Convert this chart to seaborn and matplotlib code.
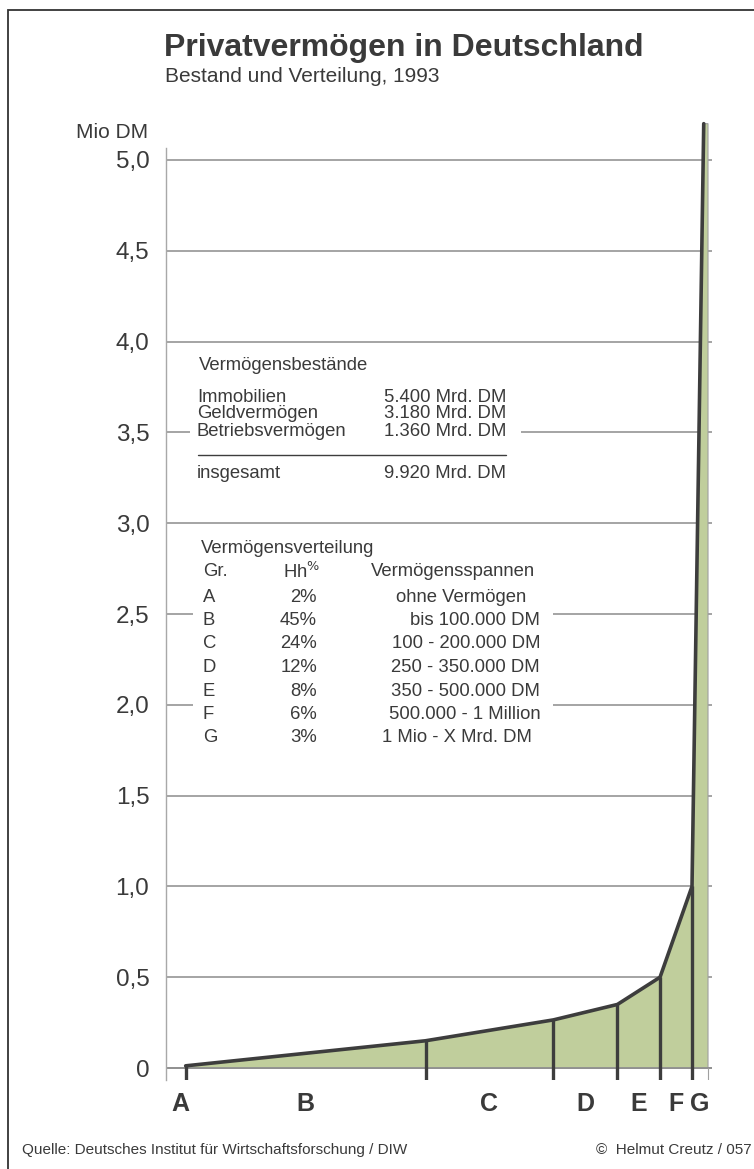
import numpy as np
import matplotlib
matplotlib.use("Agg")
import matplotlib.pyplot as plt
from matplotlib.patches import Rectangle
import seaborn as sns

# Gruppen und Haushaltsanteile (Hh%)
groups = ['A', 'B', 'C', 'D', 'E', 'F', 'G']
hh_pct = [2, 45, 24, 12, 8, 6, 3]
# Vermögen (Mio DM) an der oberen Grenze jeder Gruppe
upper_values = [0.012, 0.15, 0.265, 0.35, 0.5, 1.0, 5.2]
peak_x = 99.2  # wo die Kurve oben ankommt (kumulierte %)

y_ticks = [0, 0.5, 1.0, 1.5, 2.0, 2.5, 3.0, 3.5, 4.0, 4.5, 5.0]
y_ticklabels = ['0', '0,5', '1,0', '1,5', '2,0', '2,5', '3,0', '3,5', '4,0', '4,5', '5,0']

bestand_names = ['Immobilien', 'Geldvermögen', 'Betriebsvermögen']
bestand_values = ['5.400 Mrd. DM', '3.180 Mrd. DM', '1.360 Mrd. DM']
bestand_total = '9.920 Mrd. DM'

spannen = ['ohne Vermögen', 'bis 100.000 DM', '100 - 200.000 DM', '250 - 350.000 DM',
           '350 - 500.000 DM', '500.000 - 1 Million', '1 Mio - X Mrd. DM']

TXT = '#3a3a3a'
GREEN = '#c0ce9c'
DARK = '#3d3d3d'
GRID = '#8c8c8c'

sns.set_style("white")
plt.rcParams['font.family'] = ['Liberation Sans', 'DejaVu Sans']

W, H = 754, 1169
fig = plt.figure(figsize=(W / 100, H / 100), dpi=100)


def fx(x):
    return x / W


def fy(y):
    return 1 - y / H


# Achse in Pixeln: links 166, rechts 712, oben 148, unten 1080
ax = fig.add_axes([fx(166), fy(1080), fx(712 - 166), (1080 - 148) / H])

cum = np.cumsum(hh_pct)
curve_x = list(cum[:-1]) + [peak_x, cum[-1]]
curve_y = upper_values[:-1] + [upper_values[-1], upper_values[-1]]

ax.set_xlim(-1.69, 100.75)
ax.set_ylim(-0.066, 5.066)

for t in y_ticks:
    ax.axhline(t, color=GRID, lw=1.1, zorder=1)

fill_x = [cum[0]] + curve_x + [cum[-1]]
fill_y = [0] + curve_y + [0]
ax.fill(fill_x, fill_y, facecolor=GREEN, edgecolor='#a0a0a0', lw=0.8, zorder=2, clip_on=False)
ax.axhline(0, color=GRID, lw=1.1, zorder=2.5)

sns.lineplot(x=curve_x[:-1], y=curve_y[:-1], sort=False, estimator=None, ax=ax,
             color=DARK, lw=2.6, zorder=4, clip_on=False, solid_joinstyle='miter')
for xb, yb in zip(cum[:-1], upper_values[:-1]):
    ax.plot([xb, xb], [-0.066, yb], color=DARK, lw=2.4, zorder=4, solid_capstyle='butt')
ax.plot([cum[-1], cum[-1]], [-0.066, 0], color='#a0a0a0', lw=0.8, zorder=3)

ax.set_yticks(y_ticks)
ax.set_yticklabels(y_ticklabels, fontsize=17.5, color=TXT)
ax.tick_params(axis='y', length=0, pad=12)
ax.set_xticks([])
for s in ['top', 'right', 'bottom']:
    ax.spines[s].set_visible(False)
ax.spines['left'].set_color('#a8a8a8')
ax.spines['left'].set_linewidth(1.0)

# Gruppenbuchstaben unter der Achse
starts = np.concatenate([[0], cum[:-1]])
mids = (starts + cum) / 2
for g, m in zip(groups, mids):
    ax.text(m, -0.2, g, ha='center', va='center', fontsize=18, fontweight='bold', color=TXT)

# Titel
fig.text(fx(164), fy(48), 'Privatvermögen in Deutschland', fontsize=23, fontweight='bold',
         color=TXT, va='center')
fig.text(fx(165), fy(77), 'Bestand und Verteilung, 1993', fontsize=15, color=TXT, va='center')
fig.text(fx(148), fy(133), 'Mio DM', fontsize=15, color=TXT, va='center', ha='right')

# Kasten 1: Vermögensbestände
fig.patches.append(Rectangle((fx(190), fy(495)), fx(521 - 190), (495 - 350) / H,
                             transform=fig.transFigure, facecolor='white', edgecolor='none', zorder=1))
fs = 13.3
fig.text(fx(199), fy(365), 'Vermögensbestände', fontsize=fs, color=TXT, va='center')
for i, (n, v) in enumerate(zip(bestand_names, bestand_values)):
    y = 397 + i * 17
    fig.text(fx(197), fy(y), n, fontsize=fs, color=TXT, va='center')
    fig.text(fx(506), fy(y), v, fontsize=fs, color=TXT, va='center', ha='right')
fig.lines.append(plt.Line2D([fx(198), fx(506)], [fy(455), fy(455)], transform=fig.transFigure,
                            color=DARK, lw=1.0, zorder=2))
fig.text(fx(197), fy(473), 'insgesamt', fontsize=fs, color=TXT, va='center')
fig.text(fx(506), fy(473), bestand_total, fontsize=fs, color=TXT, va='center', ha='right')

# Kasten 2: Vermögensverteilung
fig.patches.append(Rectangle((fx(193), fy(760)), fx(553 - 193), (760 - 532) / H,
                             transform=fig.transFigure, facecolor='white', edgecolor='none', zorder=1))
fig.text(fx(201), fy(548), 'Vermögensverteilung', fontsize=fs, color=TXT, va='center')
fig.text(fx(203), fy(572), 'Gr.', fontsize=fs, color=TXT, va='center')
fig.text(fx(320), fy(572), 'Hh$^{\\%}$', fontsize=fs, color=TXT, va='center', ha='right')
fig.text(fx(535), fy(572), 'Vermögensspannen', fontsize=fs, color=TXT, va='center', ha='right')
right_ends = [526, 540, 540, 540, 540, 541, 532]
for i, (g, p, s) in enumerate(zip(groups, hh_pct, spannen)):
    y = 597 + i * 23.5
    fig.text(fx(203), fy(y), g, fontsize=fs, color=TXT, va='center')
    fig.text(fx(317), fy(y), f'{p}%', fontsize=fs, color=TXT, va='center', ha='right')
    fig.text(fx(right_ends[i]), fy(y), s, fontsize=fs, color=TXT, va='center', ha='right')

# Fußzeile
fig.text(fx(22), fy(1150), 'Quelle: Deutsches Institut für Wirtschaftsforschung / DIW',
         fontsize=11, color=TXT, va='center')
fig.text(fx(752), fy(1150), '©  Helmut Creutz / 057', fontsize=11, color=TXT, va='center', ha='right')

# Rahmen
fig.patches.append(Rectangle((fx(8), fy(1200)), fx(800), (1200 - 10) / H, transform=fig.transFigure,
                             facecolor='none', edgecolor='#333333', lw=1.3, zorder=0))

fig.savefig('out.png', dpi=100)
